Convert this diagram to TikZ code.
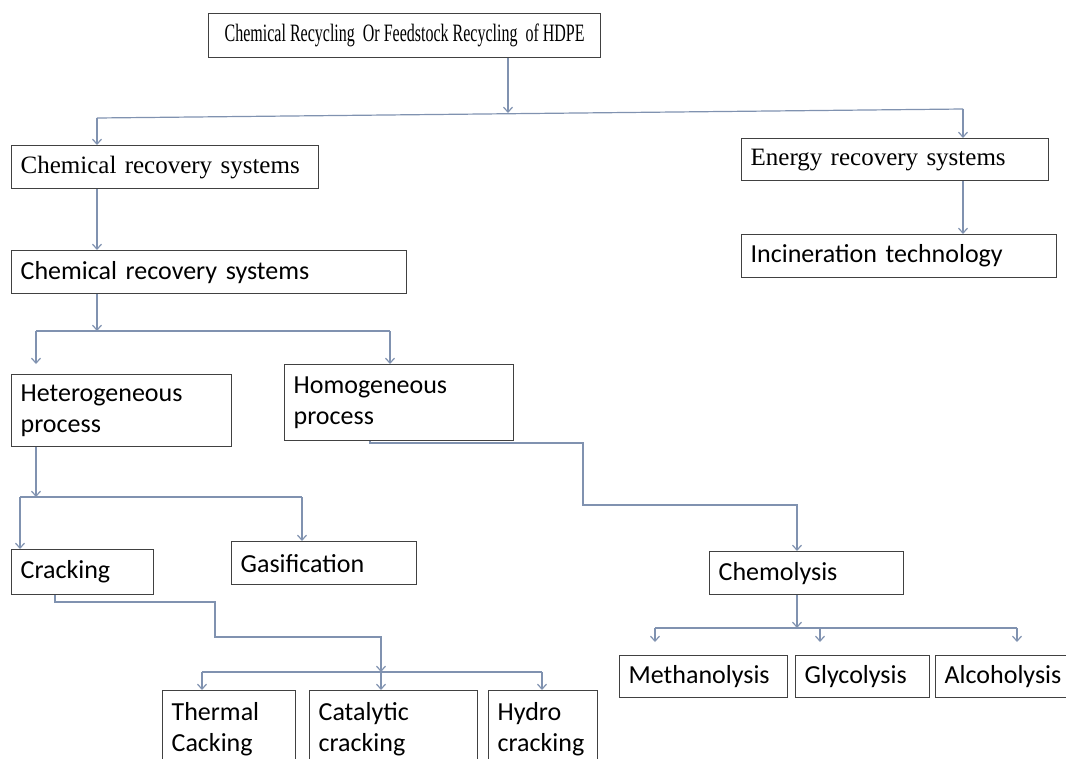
\documentclass[tikz,border=0pt]{standalone}
\usepackage{fontspec}
\setmainfont{Liberation Serif}
\setsansfont{Carlito}
\newfontfamily\rootfont[FakeStretch=0.64]{Liberation Serif}
\definecolor{boxgray}{RGB}{65, 65, 65}
\definecolor{linkblue}{RGB}{128, 146, 176}
\usetikzlibrary{arrows.meta, positioning}

\begin{document}
\begin{tikzpicture}[x=1pt, y=-1pt,
    box/.style={draw=boxgray, line width=1.3pt, anchor=north west, inner xsep=9pt, inner ysep=0pt, align=left},
    serifbox/.style={box, font=\fontsize{25}{30}\selectfont\rmfamily},
    sansbox/.style={box, font=\fontsize{26}{31}\selectfont\sffamily},
    link/.style={draw=linkblue, line width=1.2pt},
    arr/.style={link, -{Straight Barb[length=5pt, width=9pt]}}]
  \useasboundingbox (0, 0) rectangle (1066, 758);
  \clip (0, 0) rectangle (1066, 758);

  % Boxes
  \node[box, font=\fontsize{25}{29}\selectfont\rootfont, minimum width=392pt, minimum height=44pt] (root) at (208, 13)
    {Chemical Recycling \ Or Feedstock Recycling \ of HDPE};
  \node[serifbox, text width=289pt, minimum height=43pt] (chemA) at (11, 145) {Chemical recovery systems};
  \node[serifbox, text width=289pt, minimum height=42pt] (energy) at (741, 138) {Energy recovery systems};
  \node[sansbox, text width=377pt, minimum height=43pt] (chemB) at (11, 250) {Chemical recovery systems};
  \node[sansbox, text width=297pt, minimum height=43pt] (incin) at (741, 234) {Incineration technology};
  \node[sansbox, text width=202pt, minimum height=72pt] (hetero) at (11, 374) {Heterogeneous\\process};
  \node[sansbox, text width=211pt, minimum height=76pt] (homo) at (284, 364) {Homogeneous\\process};
  \node[sansbox, text width=124pt, minimum height=45pt] (crack) at (11, 549) {Cracking};
  \node[sansbox, text width=167pt, minimum height=43pt] (gasif) at (231, 541) {Gasification};
  \node[sansbox, text width=176pt, minimum height=43pt] (chemo) at (709, 551) {Chemolysis};
  \node[sansbox, text width=150pt, minimum height=42pt] (meth) at (619, 655) {Methanolysis};
  \node[sansbox, text width=116pt, minimum height=42pt] (glyc) at (795, 655) {Glycolysis};
  \node[sansbox, text width=122pt, minimum height=42pt] (alco) at (935, 655) {Alcoholysis};
  \node[sansbox, text width=115pt, minimum height=78pt] (thermal) at (162, 690) {Thermal\\Cacking};
  \node[sansbox, text width=150pt, minimum height=78pt] (catal) at (309, 690) {Catalytic\\cracking};
  \node[sansbox, text width=91pt, minimum height=78pt] (hydro) at (488, 690) {Hydro\\cracking};

  % Junction points
  \coordinate (j0) at (508, 113);
  \coordinate (busL) at (97, 118);
  \coordinate (busR) at (963, 109);
  \coordinate (pL) at (36, 331);
  \coordinate (pR) at (390, 331);
  \coordinate (qL) at (20, 497);
  \coordinate (qR) at (302, 497);
  \coordinate (h1) at (370, 443);
  \coordinate (h2) at (583, 505);
  \coordinate (c1) at (797, 628);
  \coordinate (oL) at (655, 628);
  \coordinate (oM) at (820, 628);
  \coordinate (oR) at (1017, 628);
  \coordinate (k1) at (55, 602);
  \coordinate (k2) at (215, 637);
  \coordinate (k3) at (381, 672);
  \coordinate (tL) at (202, 672);
  \coordinate (tR) at (542, 672);

  % Top level
  \draw[arr] (root.south -| j0) -- (j0);
  \draw[link] (busL) -- (busR);
  \draw[arr] (busL) -- (chemA.north -| busL);
  \draw[arr] (busR) -- (energy.north -| busR);
  \draw[arr] (chemA.south -| busL) -- (chemB.north -| busL);
  \draw[arr] (energy.south -| busR) -- (incin.north -| busR);

  % Processes
  \draw[arr] (chemB.south -| busL) -- (busL |- pL);
  \draw[link] (pL) -- (pR);
  \draw[arr, shorten >=10pt] (pL) -- (hetero.north -| pL);
  \draw[arr] (pR) -- (homo.north -| pR);

  % Heterogeneous branch
  \draw[arr] (hetero.south -| pL) -- (pL |- qL);
  \draw[link] (qL) -- (qR);
  \draw[arr] (qL) -- (crack.north -| qL);
  \draw[arr] (qR) -- (gasif.north -| qR);

  % Homogeneous branch
  \draw[arr] (homo.south -| h1) -- (h1) -| (h2) -| (chemo.north -| c1);
  \draw[arr] (chemo.south -| c1) -- (c1);
  \draw[link] (oL) -- (oR);
  \foreach \src/\dst in {oL/meth, oM/glyc, oR/alco}
    \draw[arr, shorten >=13pt] (\src) -- (\dst.north -| \src);

  % Cracking types
  \draw[arr] (crack.south -| k1) -- (k1) -| (k2) -| (k3);
  \draw[link] (tL) -- (tR);
  \foreach \src/\dst in {tL/thermal, k3/catal, tR/hydro}
    \draw[arr] (\src) -- (\dst.north -| \src);
\end{tikzpicture}
\end{document}
